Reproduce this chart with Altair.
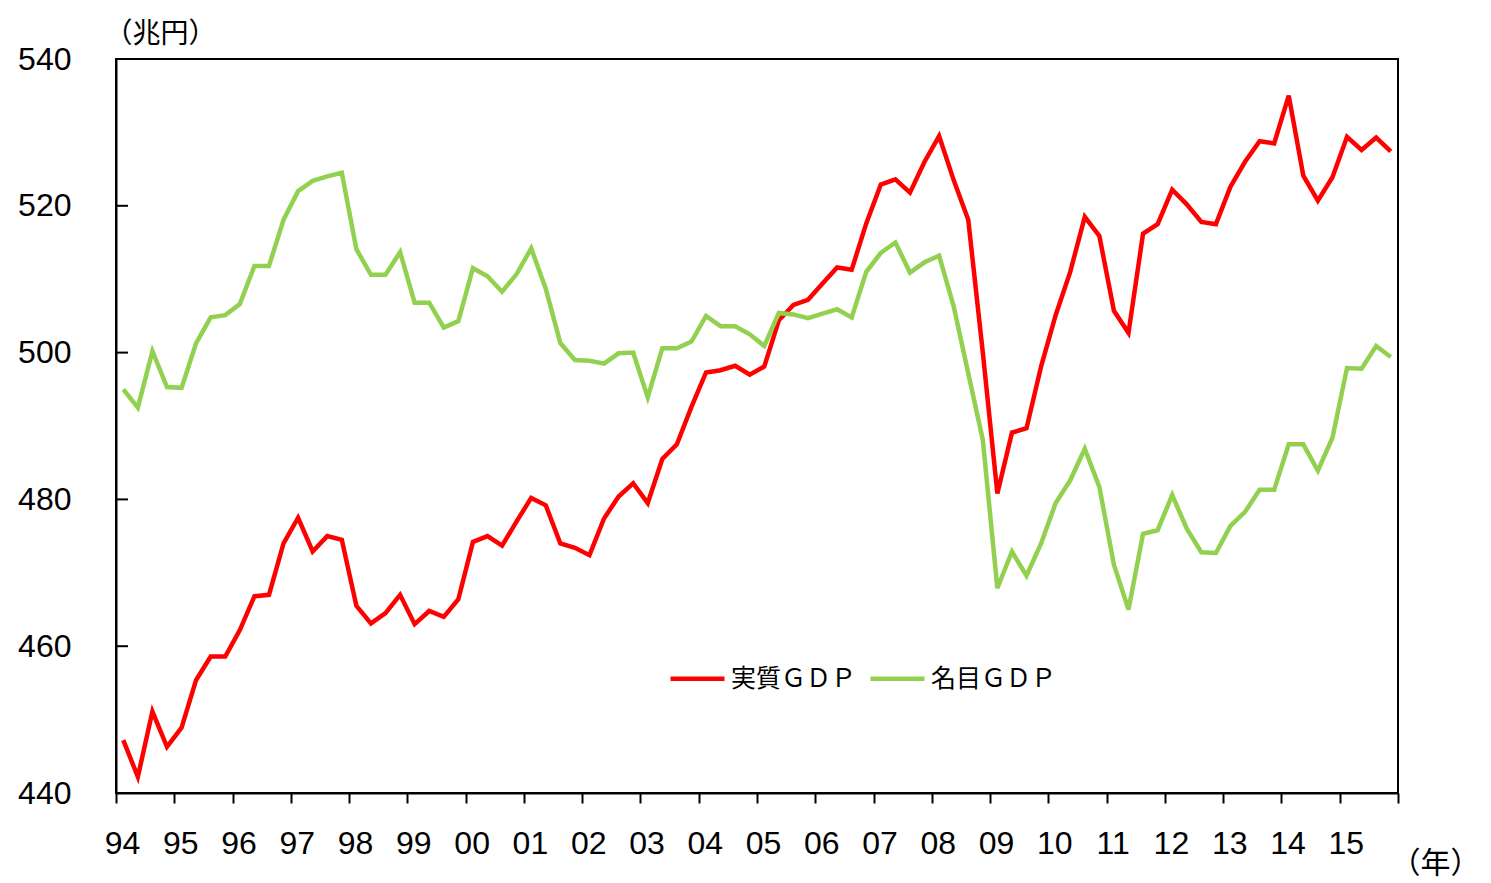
import altair as alt
import pandas as pd

years = ["94", "95", "96", "97", "98", "99", "00", "01", "02", "03", "04",
         "05", "06", "07", "08", "09", "10", "11", "12", "13", "14", "15"]

real_gdp = [
    447.2, 442.2, 451.1, 446.3,
    448.9, 455.4, 458.6, 458.6,
    462.2, 466.8, 467.0, 474.0,
    477.5, 472.9, 475.0, 474.5,
    465.5, 463.1, 464.5, 467.0,
    463.0, 464.8, 464.0, 466.4,
    474.2, 475.0, 473.7, 477.0,
    480.2, 479.2, 474.0, 473.4,
    472.4, 477.4, 480.4, 482.2,
    479.5, 485.5, 487.5, 492.6,
    497.3, 497.6, 498.2, 497.0,
    498.1, 504.4, 506.5, 507.2,
    509.4, 511.6, 511.3, 517.6,
    522.9, 523.6, 521.8, 526.0,
    529.5, 523.5, 518.1, 500.0,
    480.8, 489.1, 489.7, 498.1,
    505.1, 511.0, 518.5, 515.9,
    505.7, 502.7, 516.2, 517.5,
    522.2, 520.2, 517.8, 517.5,
    522.6, 526.0, 528.8, 528.5,
    535.0, 524.1, 520.7, 523.9,
    529.4, 527.6, 529.3, 527.4,
]

nominal_gdp = [
    495.0, 492.5, 500.2, 495.3,
    495.2, 501.3, 504.8, 505.1,
    506.6, 511.8, 511.8, 518.1,
    522.0, 523.4, 524.0, 524.5,
    514.1, 510.6, 510.6, 513.7,
    506.8, 506.8, 503.4, 504.3,
    511.5, 510.4, 508.3, 510.7,
    514.2, 508.7, 501.3, 499.0,
    498.9, 498.5, 499.9, 500.0,
    493.9, 500.6, 500.6, 501.5,
    505.0, 503.6, 503.6, 502.5,
    500.9, 505.4, 505.2, 504.7,
    505.3, 505.9, 504.8, 511.0,
    513.6, 515.0, 510.9, 512.3,
    513.2, 506.3, 497.2, 488.1,
    467.9, 472.9, 469.6, 474.0,
    479.5, 482.6, 486.9, 481.7,
    471.1, 465.0, 475.3, 475.8,
    480.6, 476.0, 472.8, 472.7,
    476.4, 478.3, 481.3, 481.3,
    487.5, 487.5, 483.9, 488.4,
    497.9, 497.8, 500.9, 499.4,
]

series_names = ["実質ＧＤＰ", "名目ＧＤＰ"]
series_colors = ["#FF0000", "#92D050"]
y_ticks = [440, 460, 480, 500, 520, 540]
y_title = "（兆円）"
x_title = "（年）"

rows = []
for name, vals in zip(series_names, [real_gdp, nominal_gdp]):
    for i, v in enumerate(vals):
        rows.append({"q": i + 0.5, "value": v, "series": name})
df = pd.DataFrame(rows)

n_q = len(real_gdp)
x_vals = list(range(0, n_q + 1, 4))
label_arr = "[" + ",".join("'" + y + "'" for y in years) + "]"
label_expr = f"datum.value < {n_q} ? {label_arr}[datum.value/4] : ''"

num_font = "Liberation Sans"
cjk_font = "Noto Sans CJK JP"

lines = alt.Chart(df).mark_line(strokeWidth=4.5, strokeJoin="miter").encode(
    x=alt.X("q:Q",
            scale=alt.Scale(domain=[0, n_q], nice=False, zero=False),
            axis=alt.Axis(values=x_vals, labelExpr=label_expr, grid=False,
                          tickSize=10, tickWidth=2, tickColor="black",
                          domainColor="black", domainWidth=2,
                          labelFont=num_font, labelFontSize=32, labelColor="black",
                          labelPadding=25, labelOffset=6, labelFlush=False,
                          title=x_title, titleFont=cjk_font, titleFontSize=30,
                          titleFontWeight="normal", titleColor="black",
                          titleAngle=0, titleAlign="right", titleBaseline="middle",
                          titleX=1364, titleY=70)),
    y=alt.Y("value:Q",
            scale=alt.Scale(domain=[440, 540], nice=False, zero=False),
            axis=alt.Axis(values=y_ticks, grid=False, ticks=False,
                          domainColor="black", domainWidth=2,
                          labelFont=num_font, labelFontSize=32, labelColor="black",
                          labelPadding=45, labelFlush=False,
                          title=y_title, titleFont=cjk_font, titleFontSize=28,
                          titleFontWeight="normal", titleColor="black",
                          titleAngle=0, titleAlign="left", titleBaseline="middle",
                          titleX=-12, titleY=-25)),
    color=alt.Color("series:N",
                    scale=alt.Scale(domain=series_names, range=series_colors),
                    sort=series_names,
                    legend=alt.Legend(orient="none", legendX=552, legendY=590,
                                      direction="horizontal", title=None,
                                      symbolType="stroke", symbolSize=2916,
                                      symbolStrokeWidth=4.5,
                                      labelFont=cjk_font, labelFontSize=25,
                                      labelColor="black", columnPadding=4,
                                      labelOffset=4)),
    order=alt.Order("series:N"),
)

tick_df = pd.DataFrame({"t": y_ticks})
yticks = alt.Chart(tick_df).mark_rule(color="black", strokeWidth=2).encode(
    y=alt.Y("t:Q"),
    x=alt.value(0),
    x2=alt.value(12),
)

chart = alt.layer(lines, yticks).properties(
    width=1282, height=734,
    padding={"left": 9, "top": 12, "right": 0, "bottom": 4},
).configure(
    background="white"
).configure_view(
    stroke="black", strokeWidth=2
)

chart.save("out.html", embed_options={"renderer": "svg", "actions": False})
